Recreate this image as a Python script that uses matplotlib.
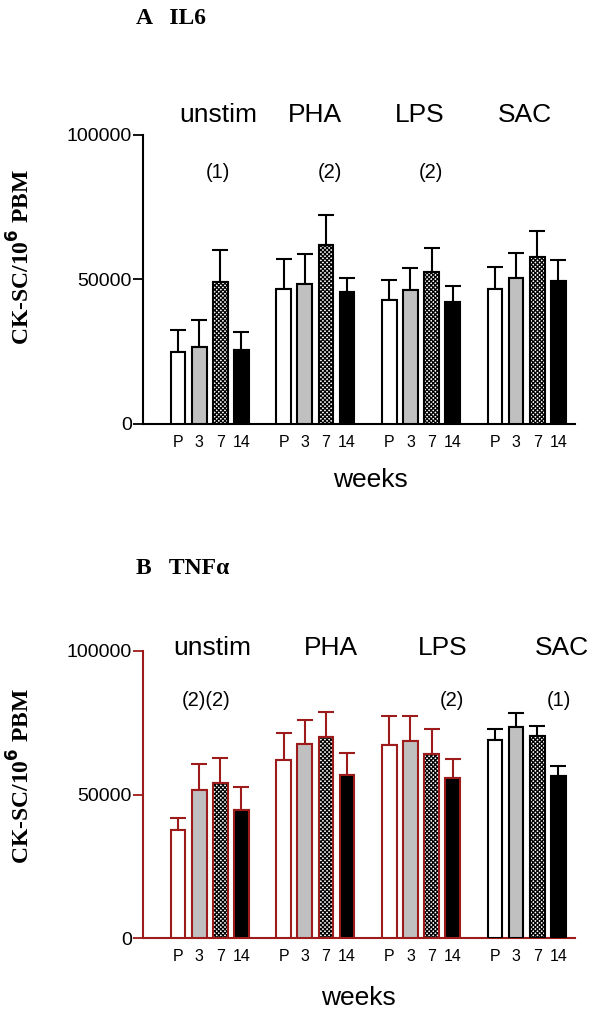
# IL6 / TNFa cytokine secreting cells per 10^6 PBM, by stimulus and week
import matplotlib
matplotlib.use("Agg")
import matplotlib.pyplot as plt
import numpy as np

plt.rcParams['font.family'] = ['Liberation Sans', 'DejaVu Sans']
plt.rcParams['hatch.linewidth'] = 0.9
plt.rcParams['hatch.color'] = 'black'

# Data
groups = ['unstim', 'PHA', 'LPS', 'SAC']
weeks = ['P', '3', '7', '14']

il6_mean = [[24600, 26400, 49000, 25600],
            [46700, 48200, 61800, 45400],
            [42700, 46100, 52300, 41900],
            [46700, 50400, 57700, 49300]]
il6_top = [[32500, 35700, 60000, 31600],
           [56900, 58600, 72100, 50500],
           [49800, 53800, 60700, 47500],
           [54200, 59100, 66600, 56500]]
il6_notes = ['(1)', '(2)', '(2)']

tnf_mean = [[37600, 51600, 54000, 44800],
            [61900, 67600, 69900, 56900],
            [67200, 68500, 64000, 55800],
            [69000, 73700, 70300, 56600]]
tnf_top = [[41800, 60500, 62700, 52700],
           [71400, 76100, 78900, 64600],
           [77500, 77500, 73000, 62400],
           [72800, 78300, 74000, 59900]]
tnf_notes = ['(2)(2)', '(2)', '(1)']

# Layout (data units on x, values on y)
il6_label_x = [1.89, 6.48, 11.45, 16.42]
il6_note_x = [1.87, 7.18, 11.95]
tnf_label_x = [1.61, 7.24, 12.54, 18.17]
tnf_note_x = [1.33, 12.97, 18.03]

RED = '#9e1b1b'
faces = ['white', '#c0c0c0', 'white', 'black']
hatches = [None, None, 'xxxxxxxx', None]


def panel(ax, means, tops, edge_colors, axis_color, label_x, label_y,
          note_x, note_y, notes):
    for g in range(len(groups)):
        x = g * 5 + np.arange(len(weeks))
        m = np.array(means[g])
        err = np.array(tops[g]) - m
        ec = edge_colors[g]
        for i in range(len(weeks)):
            # fill (hatch drawn in black), then the coloured outline on top
            ax.bar(x[i], m[i], width=0.7, color=faces[i], edgecolor='black',
                   hatch=hatches[i], linewidth=0, zorder=3)
            ax.bar(x[i], m[i], width=0.7, fill=False, edgecolor=ec,
                   linewidth=1.5, zorder=4)
        ax.errorbar(x, m, yerr=[np.zeros_like(err), err], fmt='none',
                    ecolor=ec, elinewidth=1.5, capsize=5.5, capthick=1.5,
                    zorder=2)
        ax.text(label_x[g], label_y, groups[g], fontsize=19, ha='center',
                va='center', clip_on=False)
    for xn, t in zip(note_x, notes):
        ax.text(xn, note_y, t, fontsize=14.5, ha='center', va='center',
                clip_on=False)

    pos = [g * 5 + i for g in range(len(groups)) for i in range(len(weeks))]
    ax.set_xticks(pos)
    ax.set_xticklabels(weeks * len(groups), fontsize=11.5)
    ax.tick_params(axis='x', length=0, pad=8)
    ax.set_xlim(-1.66, 18.79)
    ax.set_ylim(0, 100000)
    ax.set_yticks([0, 50000, 100000])
    ax.set_yticklabels(['0', '50000', '100000'], fontsize=14)
    ax.tick_params(axis='y', length=7, width=1.3, pad=1, color=axis_color)
    for s in ['top', 'right']:
        ax.spines[s].set_visible(False)
    for s in ['left', 'bottom']:
        ax.spines[s].set_color(axis_color)
        ax.spines[s].set_linewidth(1.5)


fig = plt.figure(figsize=(6, 10.14), dpi=100)
W, H = 600, 1014

# Panel A
axA = fig.add_axes([143 / W, 1 - 423.5 / H, 432 / W, 289 / H])
panel(axA, il6_mean, il6_top, ['black'] * 4, 'black',
      il6_label_x, 106900, il6_note_x, 86800, il6_notes)

# Panel B
axB = fig.add_axes([143 / W, 1 - 938.3 / H, 432 / W, 287.3 / H])
panel(axB, tnf_mean, tnf_top, [RED, RED, RED, 'black'], RED,
      tnf_label_x, 101000, tnf_note_x, 82900, tnf_notes)

# Titles and axis labels
serif = ['Liberation Serif', 'DejaVu Serif']
fig.text(136 / W, 1 - 18 / H, 'A   IL6', family=serif, fontweight='bold',
         fontsize=17, va='center')
fig.text(136 / W, 1 - 568 / H, 'B   TNF\u03b1', family=serif,
         fontweight='bold', fontsize=17, va='center')
for yc in [257, 776]:
    fig.text(21 / W, 1 - yc / H, 'CK-SC/10$^{\\mathbf{6}}$ PBM', family=serif,
             fontweight='bold', fontsize=17, rotation=90, ha='center',
             va='center')
fig.text(370 / W, 1 - 480 / H, 'weeks', fontsize=19, ha='center',
         va='center')
fig.text(358 / W, 1 - 998 / H, 'weeks', fontsize=19, ha='center',
         va='center')

fig.savefig('out.png', dpi=100)
